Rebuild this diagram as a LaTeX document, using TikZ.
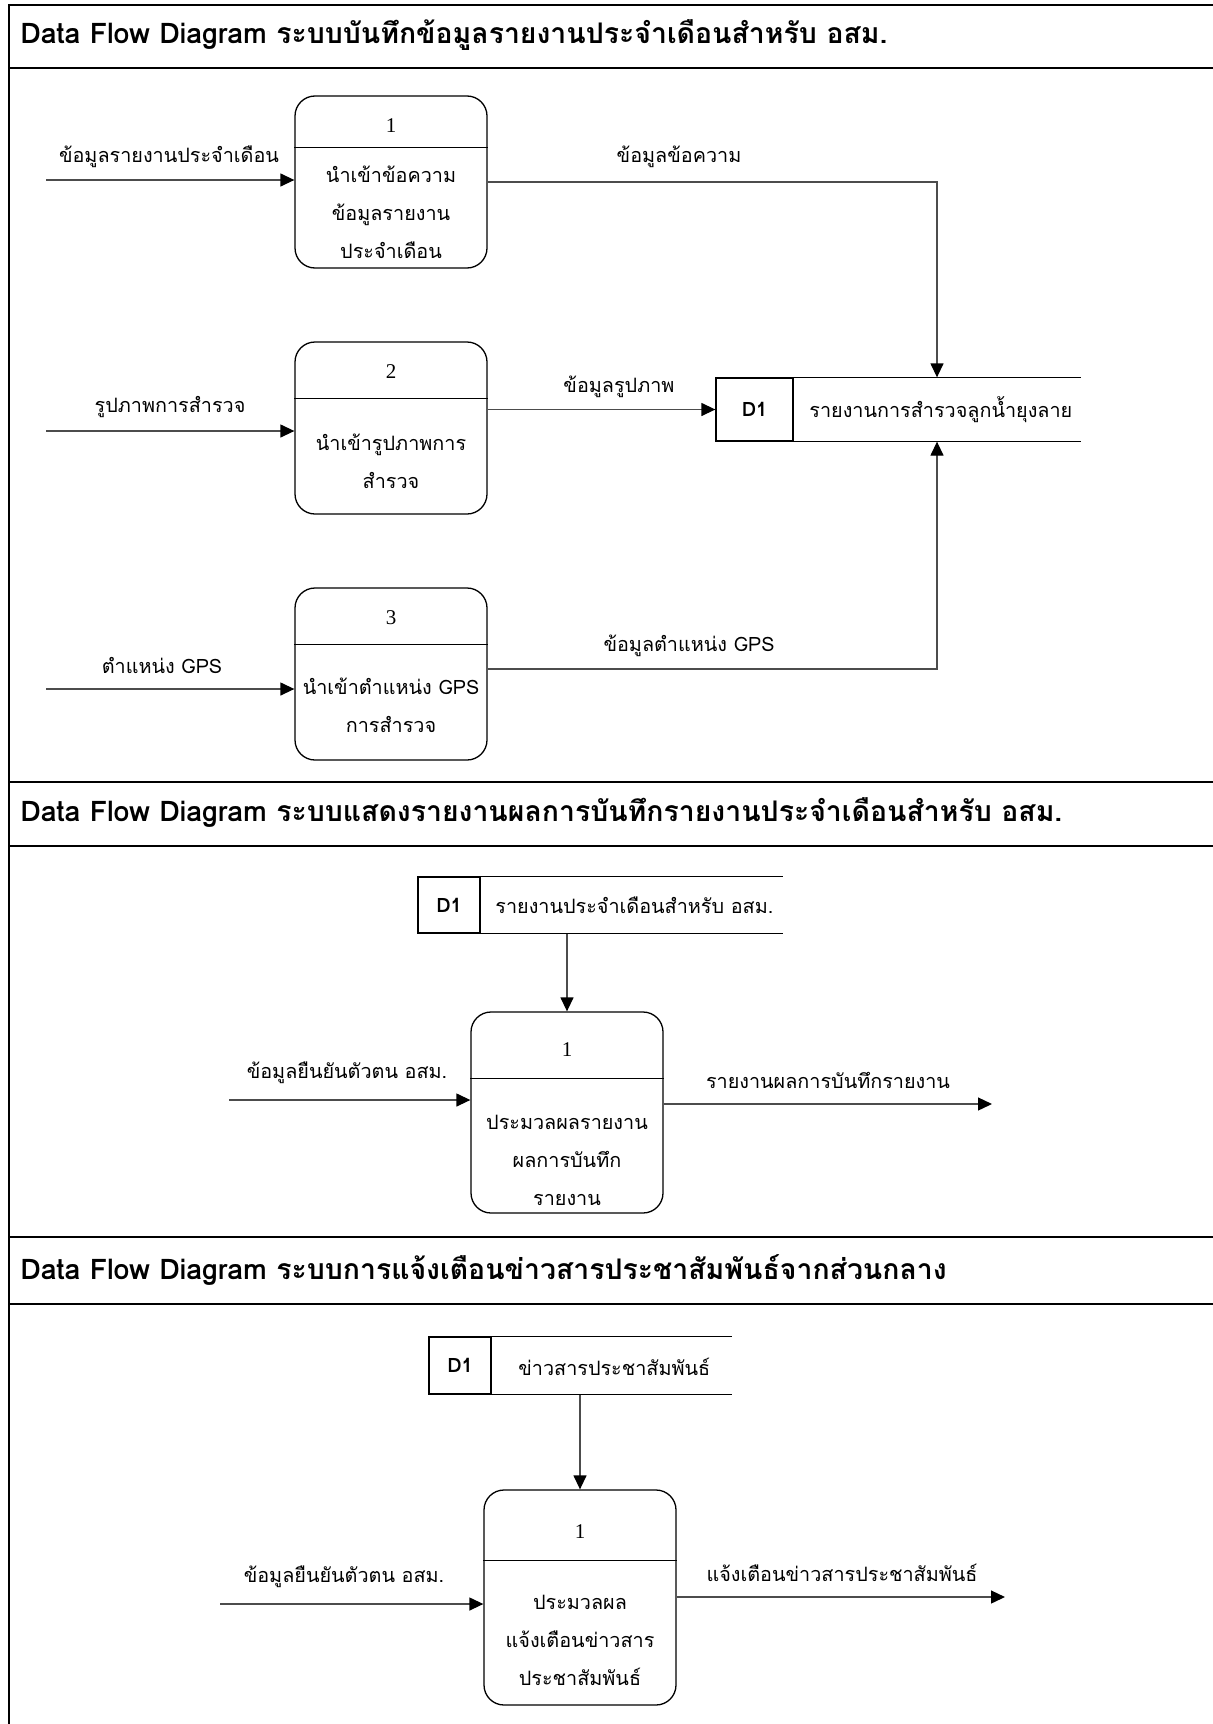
\documentclass[tikz,border=0pt]{standalone}
\usepackage{fontspec}
\setmainfont[Script=Thai]{Loma}
\newfontfamily\numfont{Liberation Serif}
\usetikzlibrary{arrows.meta,positioning}

\begin{document}
\begin{tikzpicture}[x=0.5pt,y=-0.5pt,font=\fontsize{9.9}{19}\selectfont,
 frame/.style={line width=1.4pt},
 proc/.style={draw,rounded corners=10pt,line width=0.65pt,minimum width=96pt,minimum height=86pt},
 txt/.style={align=center,inner sep=0pt},
 num/.style={inner sep=0pt,font=\numfont\fontsize{10.5}{12}\selectfont},
 sid/.style={draw,line width=0.65pt,inner sep=0pt,font=\fontsize{9.9}{11}\selectfont\bfseries},
 sline/.style={line width=0.65pt},
 flow/.style={draw=black!70,line width=0.65pt,-{Triangle[length=7pt,width=6.5pt,color=black]}},
 ttl/.style={anchor=west,inner sep=0pt,font=\fontsize{14.2}{16}\selectfont\bfseries}]

\useasboundingbox (0,0) rectangle (1212,1724);
% frame and bars
\draw[frame] (1240,5) -- (9,5) -- (9,1740);
\foreach \y in {68,782,846,1237,1304} \draw[frame] (9,\y) -- (1240,\y);

\node[ttl] (t1) at (20,35) {Data Flow Diagram ระบบบันทึกข้อมูลรายงานประจำเดือนสำหรับ อสม.};
\node[ttl] (t2) at (20,813) {Data Flow Diagram ระบบแสดงรายงานผลการบันทึกรายงานประจำเดือนสำหรับ อสม.};
\node[ttl] (t3) at (20,1270) {Data Flow Diagram ระบบการแจ้งเตือนข่าวสารประชาสัมพันธ์จากส่วนกลาง};

% --- section 1
\node[proc] (p1) at (391,182) {};
\draw[sline] ([yshift=-26pt]p1.north west) -- ([yshift=-26pt]p1.north east);
\node[num] (p1n) at (391,126) {1};
\node[txt] (p1t) at (391,212) {นำเข้าข้อความ\\ข้อมูลรายงาน\\ประจำเดือน};

\node[proc] (p2) at (391,428) {};
\draw[sline] ([yshift=-28.5pt]p2.north west) -- ([yshift=-28.5pt]p2.north east);
\node[num] (p2n) at (391,372) {2};
\node[txt] (p2t) at (391,461) {นำเข้ารูปภาพการ\\สำรวจ};

\node[proc] (p3) at (391,674) {};
\draw[sline] ([yshift=-28.5pt]p3.north west) -- ([yshift=-28.5pt]p3.north east);
\node[num] (p3n) at (391,618) {3};
\node[txt] (p3t) at (391,705) {นำเข้าตำแหน่ง GPS\\การสำรวจ};

\node[sid,minimum width=38.5pt,minimum height=31.5pt] (s1) at (754.5,409.5) {D1};
\node[txt,anchor=west] (s1l) at (809,409.5) {รายงานการสำรวจลูกน้ำยุงลาย};
\draw[sline] (s1.north east) -- ++(287,0) (s1.south east) -- ++(287,0);

\coordinate (i1) at (46,180);
\draw[flow] (i1) -- (i1 -| p1.west);
\node[txt] (l1) at (169,157) {ข้อมูลรายงานประจำเดือน};
\coordinate (k1) at (937,182);
\draw[flow] (p1.east) -- (k1) -- (k1 |- s1.north);
\node[txt] (l2) at (679,157) {ข้อมูลข้อความ};

\coordinate (i2) at (46,431);
\draw[flow] (i2) -- (i2 -| p2.west);
\node[txt] (l3) at (170,407) {รูปภาพการสำรวจ};
\draw[flow] (p2.east |- s1) -- (s1);
\node[txt] (l4) at (619,387) {ข้อมูลรูปภาพ};

\coordinate (i3) at (46,689);
\draw[flow] (i3) -- (i3 -| p3.west);
\node[txt] (l5) at (162,665) {ตำแหน่ง GPS};
\coordinate (k3) at (937,669);
\draw[flow] (k3 -| p3.east) -- (k3) -- (k3 |- s1.south);
\node[txt] (l6) at (689,646) {ข้อมูลตำแหน่ง GPS};

% --- section 2
\node[sid,minimum width=31pt,minimum height=28pt] (s2) at (449,905) {D1};
\node[txt,anchor=west] (s2l) at (495,905) {รายงานประจำเดือนสำหรับ อสม.};
\draw[sline] (s2.north east) -- ++(302,0) (s2.south east) -- ++(302,0);

\node[proc,minimum height=100.5pt] (p4) at (567,1112.5) {};
\draw[sline] ([yshift=-33.5pt]p4.north west) -- ([yshift=-33.5pt]p4.north east);
\node[num] (p4n) at (567,1050) {1};
\node[txt] (p4t) at (567,1160) {ประมวลผลรายงาน\\ผลการบันทึก\\รายงาน};
\draw[flow] (s2.south -| p4.north) -- (p4.north);

\coordinate (i4) at (229,1100);
\draw[flow] (i4) -- (i4 -| p4.west);
\node[txt] (l7) at (347,1073) {ข้อมูลยืนยันตัวตน อสม.};
\coordinate (o4) at (992,1104);
\draw[flow] (o4 -| p4.east) -- (o4);
\node[txt] (l8) at (828,1080) {รายงานผลการบันทึกรายงาน};

% --- section 3
\node[sid,minimum width=31pt,minimum height=28.5pt] (s3) at (460,1365.5) {D1};
\node[txt,anchor=west] (s3l) at (518,1367) {ข่าวสารประชาสัมพันธ์};
\draw[sline] (s3.north east) -- ++(240,0) (s3.south east) -- ++(240,0);

\node[proc,minimum height=107.5pt] (p5) at (580,1597.5) {};
\draw[sline] ([yshift=-35.5pt]p5.north west) -- ([yshift=-35.5pt]p5.north east);
\node[num] (p5n) at (580,1532) {1};
\node[txt] (p5t) at (580,1640) {ประมวลผล\\แจ้งเตือนข่าวสาร\\ประชาสัมพันธ์};
\draw[flow] (s3.south -| p5.north) -- (p5.north);

\coordinate (i5) at (220,1604);
\draw[flow] (i5) -- (i5 -| p5.west);
\node[txt] (l9) at (344,1577) {ข้อมูลยืนยันตัวตน อสม.};
\coordinate (o5) at (1005,1597);
\draw[flow] (o5 -| p5.east) -- (o5);
\node[txt] (l10) at (842,1573) {แจ้งเตือนข่าวสารประชาสัมพันธ์};
\end{tikzpicture}
\end{document}
